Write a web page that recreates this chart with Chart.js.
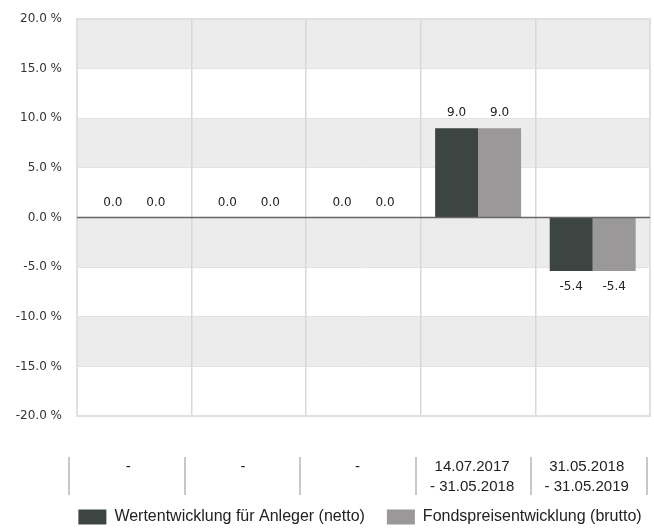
<!DOCTYPE html>
<html>
<head>
<meta charset="utf-8">
<script src="https://cdn.jsdelivr.net/npm/chart.js@4/dist/chart.umd.min.js"></script>
<style>
  html, body { margin: 0; padding: 0; background: #fff; }
  #wrap { width: 654px; height: 530px; position: relative; }
</style>
</head>
<body>
<div id="wrap"><canvas id="c"></canvas></div>
<script>
const categories = [
  ['-'],
  ['-'],
  ['-'],
  ['14.07.2017', '- 31.05.2018'],
  ['31.05.2018', '- 31.05.2019']
];
const netto = [0.0, 0.0, 0.0, 9.0, -5.4];
const brutto = [0.0, 0.0, 0.0, 9.0, -5.4];
const seriesNames = ['Wertentwicklung für Anleger (netto)', 'Fondspreisentwicklung (brutto)'];
const yTicks = [-20, -15, -10, -5, 0, 5, 10, 15, 20];

const FONT = '"Liberation Sans", Arial, sans-serif';
const SMALL = '"DejaVu Sans", Verdana, sans-serif';

const LEGEND_H = 36;
const XAXIS_H = 78;
const LEGEND_SHIFT_X = 35;
const LEGEND_SHIFT_Y = -7;

const layoutPlugin = {
  id: 'layoutFix',
  beforeLayout(chart) {
    const lg = chart.legend;
    if (lg && !lg._patched) {
      const orig = lg.fit.bind(lg);
      lg.fit = function () { orig(); this.height = LEGEND_H; };
      lg._patched = true;
    }
  },
  afterLayout(chart) {
    const lg = chart.legend;
    if (lg) {
      lg.left += LEGEND_SHIFT_X; lg.right += LEGEND_SHIFT_X;
      lg.top += LEGEND_SHIFT_Y;
    }
  }
};

const bandsPlugin = {
  id: 'bands',
  beforeDraw(chart) {
    const { ctx, chartArea: a, scales: { y } } = chart;
    ctx.save();
    for (let i = 0; i < yTicks.length - 1; i++) {
      const hi = yTicks[yTicks.length - 1 - i];
      const lo = yTicks[yTicks.length - 2 - i];
      if (i % 2 === 0) {
        const y1 = y.getPixelForValue(hi);
        const y2 = y.getPixelForValue(lo);
        ctx.fillStyle = '#ececec';
        ctx.fillRect(a.left, y1, a.right - a.left, y2 - y1);
      }
    }
    ctx.restore();
  },
  afterDraw(chart) {
    const { ctx, chartArea: a, scales: { y } } = chart;
    ctx.save();
    ctx.strokeStyle = '#e0e0e0';
    ctx.lineWidth = 2;
    ctx.strokeRect(a.left, a.top, a.right - a.left, a.bottom - a.top);
    const y0 = y.getPixelForValue(0);
    ctx.strokeStyle = '#666';
    ctx.lineWidth = 1.5;
    ctx.beginPath();
    ctx.moveTo(a.left, y0);
    ctx.lineTo(a.right, y0);
    ctx.stroke();
    const n = categories.length;
    const tl = a.left - 8, tr = a.right - 3;
    ctx.strokeStyle = '#c8c8c8';
    ctx.lineWidth = 2;
    for (let i = 0; i <= n; i++) {
      const px = Math.round(tl + i * (tr - tl) / n);
      ctx.beginPath();
      ctx.moveTo(px, a.bottom + 41);
      ctx.lineTo(px, a.bottom + 79);
      ctx.stroke();
    }
    ctx.restore();
  },
  afterDatasetsDraw(chart) {
    const { ctx } = chart;
    ctx.save();
    ctx.font = '12px ' + SMALL;
    ctx.fillStyle = '#222';
    ctx.textAlign = 'center';
    ctx.textBaseline = 'middle';
    chart.data.datasets.forEach((ds, di) => {
      const meta = chart.getDatasetMeta(di);
      meta.data.forEach((bar, i) => {
        const v = ds.data[i];
        const txt = v.toFixed(1);
        if (v >= 0) ctx.fillText(txt, bar.x, bar.y - 15);
        else ctx.fillText(txt, bar.x, bar.y + 16);
      });
    });
    ctx.restore();
  }
};

new Chart(document.getElementById('c'), {
  type: 'bar',
  data: {
    labels: categories,
    datasets: [
      { label: seriesNames[0], data: netto, backgroundColor: '#3d4543', borderWidth: 0 },
      { label: seriesNames[1], data: brutto, backgroundColor: '#9a9898', borderWidth: 0 }
    ]
  },
  options: {
    responsive: true,
    maintainAspectRatio: false,
    animation: false,
    devicePixelRatio: 1,
    categoryPercentage: 0.75,
    barPercentage: 1.0,
    layout: { padding: { left: 0, right: 4, top: 19, bottom: 0 } },
    plugins: {
      tooltip: { enabled: false },
      legend: {
        position: 'bottom',
        labels: {
          boxWidth: 28,
          boxHeight: 15,
          padding: 22,
          color: '#222',
          font: { family: FONT, size: 16 }
        }
      }
    },
    scales: {
      y: {
        min: -20,
        max: 20,
        afterBuildTicks(scale) { scale.ticks = yTicks.map(v => ({ value: v })); },
        afterFit(scale) { scale.width = 77; scale.paddingTop = 0; scale.paddingBottom = 0; },
        ticks: {
          padding: 15,
          color: '#333',
          font: { family: SMALL, size: 12 },
          callback: v => v.toFixed(1) + ' %'
        },
        grid: { color: '#e2e2e2', lineWidth: 1, drawTicks: false },
        border: { display: false }
      },
      x: {
        afterFit(scale) { scale.height = XAXIS_H; scale.paddingLeft = 0; scale.paddingRight = 0; },
        ticks: {
          padding: 41,
          labelOffset: -6,
          color: '#222',
          font: { family: FONT, size: 15, lineHeight: 1.33 },
          maxRotation: 0,
          autoSkip: false
        },
        grid: { color: '#d8d8d8', lineWidth: 1.5, drawTicks: false },
        border: { display: false }
      }
    }
  },
  plugins: [layoutPlugin, bandsPlugin]
});
</script>
</body>
</html>
